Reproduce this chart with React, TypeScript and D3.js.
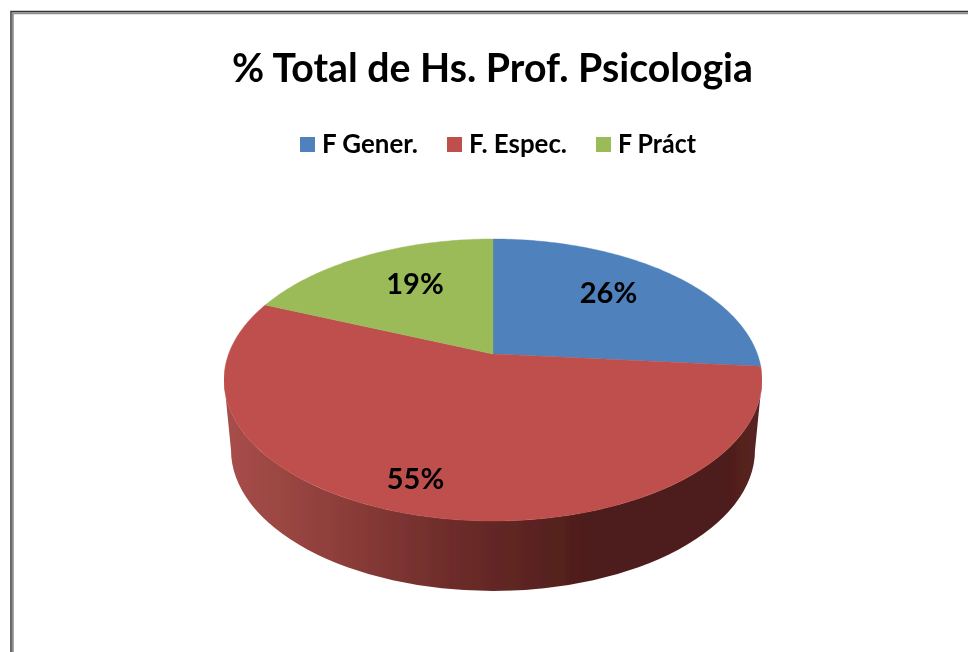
import * as d3 from "d3";

const categories = ["F Gener.", "F. Espec.", "F Práct"];
const shares = [26.4, 54.9, 18.7];
const colors = ["#4f81bd", "#be504d", "#9bbb59"];
const shareLabels = ["26%", "55%", "19%"];

const FONT = "Lato, 'Open Sans', sans-serif";
const WIDTH = 968;
const HEIGHT = 652;

// pie rim
const cx = 493;
const apexY = 354;
const rimTop = 239;
const rimBottom = 521;
const rimRx = 269;
const rimCy = (rimTop + rimBottom) / 2;
const rimRy = (rimBottom - rimTop) / 2;

// lower rim of the 3D wall
const baseCy = 450;
const baseRx = 262;
const baseRy = 141;

// perspective: the apex sits above the middle of the ellipse
const q = (2 * apexY - rimTop - rimBottom) / (rimBottom - rimTop);
const p = apexY - rimTop + rimTop * q;
const k = rimRx * Math.sqrt(1 - q * q);

function project(angle: number): [number, number] {
  const v = -Math.cos(angle);
  const d = 1 + q * v;
  return [cx + (k * Math.sin(angle)) / d, (apexY + p * v) / d];
}

const pie = d3
  .pie<number>()
  .sort(null)
  .value((d) => d);
const slices = pie(shares);

const line = d3.line();

function slicePath(start: number, end: number) {
  const steps = Math.ceil((end - start) * 60);
  const rim = d3.range(steps + 1).map((i) => project(start + ((end - start) * i) / steps));
  return line([[cx, apexY], ...rim]) + "Z";
}

const wallPath = [
  `M${cx - rimRx},${rimCy}`,
  `A${rimRx},${rimRy} 0 0 0 ${cx + rimRx},${rimCy}`,
  `L${cx + baseRx},${baseCy}`,
  `A${baseRx},${baseRy} 0 0 1 ${cx - baseRx},${baseCy}`,
  "Z",
].join(" ");

const wallStops = [
  { offset: 0, color: "#a84e4b" },
  { offset: 0.2, color: "#8f3f3b" },
  { offset: 0.42, color: "#6e2c2a" },
  { offset: 0.68, color: "#4e1d1b" },
  { offset: 0.93, color: "#4e1d1b" },
  { offset: 1, color: "#5a2422" },
];

// legend and label placement
const legendX = [300, 447, 596];
const legendWidths = [96, 98, 78];
const labelAnchors: [number, number][] = [
  [608.5, 303],
  [415.5, 489],
  [415, 294],
];

export default function App() {
  return (
    <svg
      width={WIDTH}
      height={HEIGHT}
      viewBox={`0 0 ${WIDTH} ${HEIGHT}`}
      style={{ position: "fixed", left: 0, top: 0, background: "#fff" }}
    >
      <defs>
        <linearGradient id="wall" gradientUnits="userSpaceOnUse" x1={cx - rimRx} x2={cx + rimRx} y1={0} y2={0}>
          {wallStops.map((s) => (
            <stop key={s.offset} offset={s.offset} stopColor={s.color} />
          ))}
        </linearGradient>
        {/* the source is a soft, upscaled screenshot */}
        <filter id="soft" x="0" y="0" width="100%" height="100%">
          <feGaussianBlur stdDeviation={0.45} />
        </filter>
      </defs>

      {/* frame */}
      <path d={`M11,${HEIGHT}V11.5H${WIDTH}`} fill="none" stroke="#333" strokeWidth={1.5} />
      <path d={`M12.75,${HEIGHT}V13.25H${WIDTH}`} fill="none" stroke="#8c8c8c" strokeWidth={2} />

      <g filter="url(#soft)">
        <text
          x={232}
          y={82}
          textLength={521}
          lengthAdjust="spacingAndGlyphs"
          fontFamily={FONT}
          fontWeight={700}
          fontSize={40}
          fill="#000"
        >
          % Total de Hs. Prof. Psicologia
        </text>

        {categories.map((name, i) => (
          <g key={name}>
            <rect x={legendX[i]} y={137} width={15} height={15} fill={colors[i]} />
            <text
              x={legendX[i] + 22}
              y={153}
              textLength={legendWidths[i]}
              lengthAdjust="spacingAndGlyphs"
              fontFamily={FONT}
              fontWeight={700}
              fontSize={26}
              fill="#000"
            >
              {name}
            </text>
          </g>
        ))}

        <path d={wallPath} fill="url(#wall)" />
        {slices.map((s, i) => (
          <path
            key={categories[i]}
            d={slicePath(s.startAngle, s.endAngle)}
            fill={colors[i]}
            stroke={colors[i]}
            strokeWidth={0.4}
          />
        ))}

        {shareLabels.map((label, i) => (
          <text
            key={label}
            x={labelAnchors[i][0]}
            y={labelAnchors[i][1]}
            textAnchor="middle"
            fontFamily={FONT}
            fontWeight={700}
            fontSize={29}
            fill="#000"
          >
            {label}
          </text>
        ))}
      </g>
    </svg>
  );
}
